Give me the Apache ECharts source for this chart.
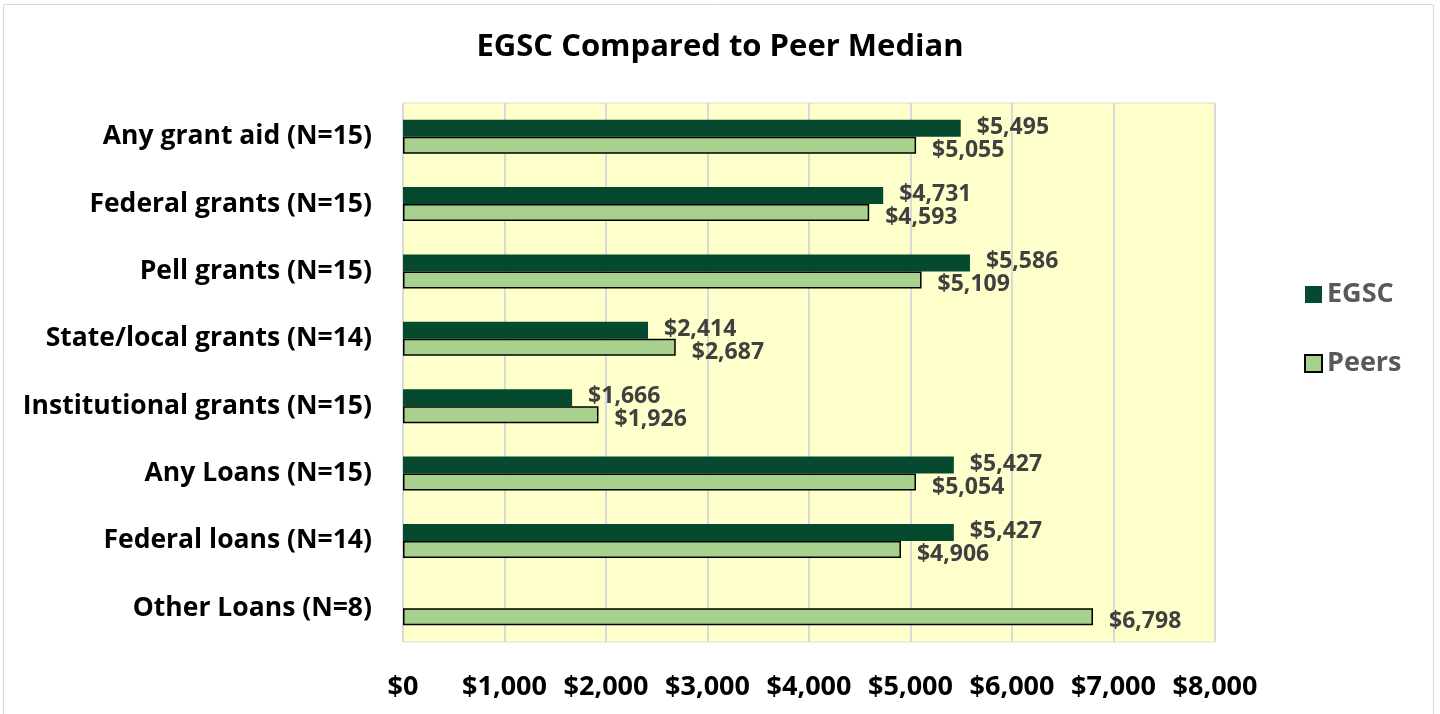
<!DOCTYPE html>
<html>
<head>
<meta charset="utf-8">
<script src="https://cdn.jsdelivr.net/npm/echarts@6/dist/echarts.min.js"></script>
<style>
  html, body { margin: 0; padding: 0; background: #fff; }
  #chart { width: 1440px; height: 714px; }
</style>
</head>
<body>
<div id="chart"></div>
<script>
// 类别（从上到下）
var categories = ['Any grant aid (N=15)', 'Federal grants (N=15)', 'Pell grants (N=15)', 'State/local grants (N=14)',
  'Institutional grants (N=15)', 'Any Loans (N=15)', 'Federal loans (N=14)', 'Other Loans (N=8)']
var egscValues = [5495, 4731, 5586, 2414, 1666, 5427, 5427, null]
var peerValues = [5055, 4593, 5109, 2687, 1926, 5054, 4906, 6798]
var xTicks = [0, 1000, 2000, 3000, 4000, 5000, 6000, 7000, 8000]

var font = '"Open Sans", "Liberation Sans", sans-serif'
var money = function (v) {
  return '$' + Number(v).toLocaleString('en-US')
}

var myChart = echarts.init(document.getElementById('chart'))
var option = {
  animation: false,
  textStyle: { fontFamily: font },
  title: {
    text: 'EGSC Compared to Peer Median',
    left: 'center',
    top: 27,
    textStyle: { color: '#000', fontSize: 31, fontWeight: 'bold', fontFamily: font }
  },
  graphic: [{
    type: 'rect',
    shape: { x: 3.5, y: 4.5, width: 1430, height: 720 },
    style: { fill: 'none', stroke: '#d9d9d9', lineWidth: 1 },
    silent: true
  }],
  legend: {
    orient: 'vertical',
    left: 1299,
    top: 276,
    itemGap: 42,
    itemWidth: 17,
    itemHeight: 17,
    icon: 'rect',
    textStyle: { color: '#595959', fontSize: 27, fontWeight: 'bold', fontFamily: font },
    data: ['EGSC', 'Peers']
  },
  grid: {
    left: 403,
    right: 225,
    top: 103,
    bottom: 72,
    show: true,
    backgroundColor: '#ffffcc',
    borderColor: '#d9e3c5',
    borderWidth: 1
  },
  xAxis: {
    type: 'value',
    min: xTicks[0],
    max: xTicks[xTicks.length - 1],
    interval: 1000,
    axisLine: { show: false },
    axisTick: { show: false },
    axisLabel: {
      color: '#000',
      fontSize: 27,
      fontWeight: 'bold',
      margin: 32,
      formatter: function (v) { return money(v) }
    },
    splitLine: { lineStyle: { color: '#d9d9d9', width: 2 } }
  },
  yAxis: {
    type: 'category',
    inverse: true,
    data: categories,
    axisLine: { show: false },
    axisTick: { show: false },
    axisLabel: { color: '#000', fontSize: 26.5, fontWeight: 'bold', margin: 31 }
  },
  series: [
    {
      name: 'EGSC',
      type: 'bar',
      data: egscValues,
      barWidth: 17,
      barGap: '0%',
      itemStyle: { color: '#054a2f' },
      label: {
        show: true,
        position: 'right',
        distance: 16,
        offset: [0, -1],
        color: '#404040',
        fontSize: 23,
        fontWeight: 'bold',
        formatter: function (p) { return money(p.value) }
      }
    },
    {
      name: 'Peers',
      type: 'bar',
      data: peerValues,
      barWidth: 17,
      itemStyle: { color: '#a9d18e', borderColor: '#000', borderWidth: 1.5 },
      label: {
        show: true,
        position: 'right',
        distance: 16,
        offset: [0, 5],
        color: '#404040',
        fontSize: 23,
        fontWeight: 'bold',
        formatter: function (p) { return money(p.value) }
      }
    }
  ]
}
myChart.setOption(option)
window.addEventListener('resize', function () {
  myChart.resize()
})
</script>
</body>
</html>
